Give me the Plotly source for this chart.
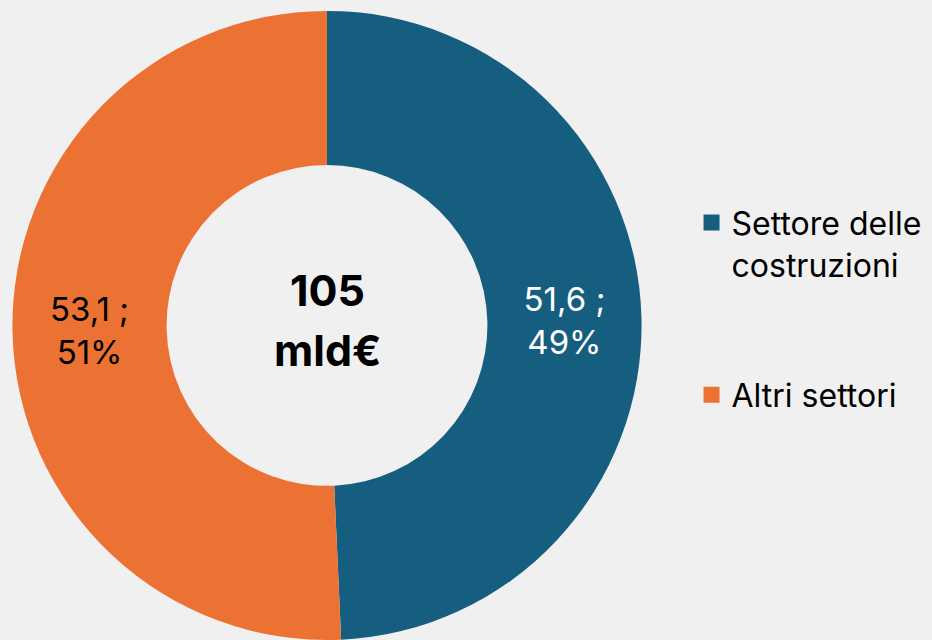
import plotly.graph_objects as go

labels = ["Settore delle<br>costruzioni", "Altri settori"]
values = [51.6, 53.1]
colors = ["#165E80", "#EB7233"]
text_colors = ["#FFFFFF", "#000000"]
total_unit = "mld€"

BG = "#F0F0F0"
FONT = "Inter"

total = round(sum(values))

fig = go.Figure()
fig.add_trace(go.Pie(
    labels=labels, values=values,
    hole=0.51, sort=False, direction="clockwise", rotation=0,
    marker=dict(colors=colors, line=dict(width=0)),
    texttemplate="%{value:.1f} ;<br>%{percent:.0%}",
    textposition="inside", insidetextorientation="horizontal",
    insidetextfont=dict(family=FONT, size=33, color=text_colors),
    domain=dict(x=[12 / 932, 642 / 932], y=[0, 0.983]),
    hoverinfo="label+value+percent",
    showlegend=False,
))

# legend entries with bigger square swatches than the pie legend allows
for lab, col in zip(labels, colors):
    fig.add_trace(go.Scatter(
        x=[None], y=[None], mode="markers", name=lab, legendgroup=lab,
        marker=dict(symbol="square", size=16, color=col),
    ))

fig.add_annotation(text=f"<b>{total}</b>", x=327 / 932, y=0.547,
                   xref="paper", yref="paper", showarrow=False,
                   font=dict(family=FONT, size=43, color="#000000"))
fig.add_annotation(text=f"<b>{total_unit}</b>", x=327 / 932, y=0.453,
                   xref="paper", yref="paper", showarrow=False,
                   font=dict(family=FONT, size=43, color="#000000"))

fig.update_layout(
    width=932, height=640,
    paper_bgcolor=BG, plot_bgcolor=BG,
    margin=dict(l=0, r=0, t=0, b=0),
    separators=", ",
    xaxis=dict(visible=False), yaxis=dict(visible=False),
    legend=dict(x=0.742, y=0.695, xanchor="left", yanchor="top",
                valign="top", bgcolor="rgba(0,0,0,0)",
                font=dict(family=FONT, size=32, color="#000000"),
                traceorder="grouped", tracegroupgap=86),
)

fig.write_html("out.html", config={"displayModeBar": False},
               post_script="document.body.style.margin='0';")
